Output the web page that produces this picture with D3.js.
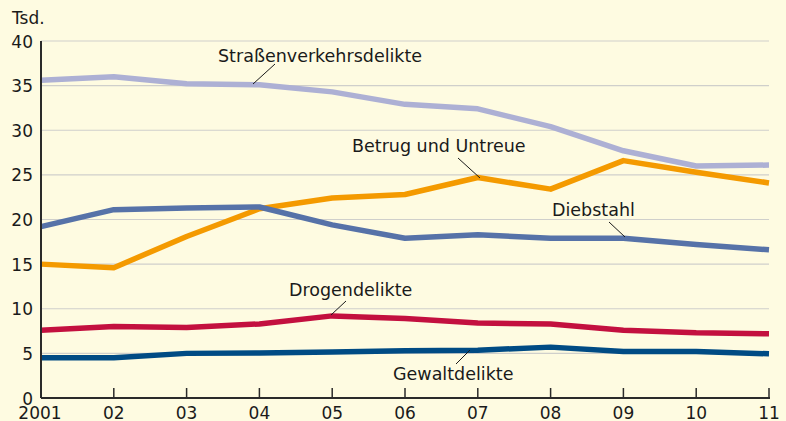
<!DOCTYPE html>
<html>
<head>
<meta charset="utf-8">
<script src="https://cdn.jsdelivr.net/npm/d3@7"></script>
<style>
  body { margin: 0; background: #fefbe1; }
  text { font-family: "DejaVu Sans", sans-serif; fill: #1a1a1a; }
</style>
</head>
<body>
<div id="wrapper"></div>
<script>
// data (thousands)
const years = ["2001", "02", "03", "04", "05", "06", "07", "08", "09", "10", "11"];
const strasse = [35.6, 36.0, 35.2, 35.1, 34.3, 32.9, 32.4, 30.4, 27.7, 26.0, 26.1];
const betrug = [15.0, 14.6, 18.1, 21.2, 22.4, 22.8, 24.7, 23.4, 26.6, 25.3, 24.1];
const diebstahl = [19.2, 21.1, 21.3, 21.4, 19.4, 17.9, 18.3, 17.9, 17.9, 17.2, 16.6];
const drogen = [7.6, 8.0, 7.9, 8.3, 9.2, 8.9, 8.4, 8.3, 7.6, 7.3, 7.2];
const gewalt = [4.5, 4.5, 5.0, 5.05, 5.15, 5.3, 5.35, 5.7, 5.2, 5.2, 4.95];
const yTicks = [0, 5, 10, 15, 20, 25, 30, 35, 40];

const width = 786, height = 421;
const plotL = 41, plotR = 769, plotT = 41, plotB = 398;

const svg = d3.select("#wrapper").append("svg")
  .attr("width", width).attr("height", height);

svg.append("rect").attr("width", width).attr("height", height).attr("fill", "#fefbe1");

const x = d3.scalePoint().domain(years).range([plotL, plotR]);
const y = d3.scaleLinear().domain([0, 40]).range([plotB, plotT]);

// gridlines
svg.selectAll(".grid")
  .data(yTicks.filter(d => d > 0))
  .enter().append("line")
  .attr("x1", plotL).attr("x2", plotR)
  .attr("y1", d => y(d)).attr("y2", d => y(d))
  .attr("stroke", "#cfcfcb").attr("stroke-width", 1.2);

// y labels
svg.selectAll(".ylab")
  .data(yTicks)
  .enter().append("text")
  .attr("x", 33).attr("y", d => y(d) + 6.5)
  .attr("text-anchor", "end")
  .attr("font-size", 17)
  .text(d => d);

svg.append("text").attr("x", 12).attr("y", 24).attr("font-size", 17).text("Tsd.");

// series
const series = [
  { name: "Straßenverkehrsdelikte", values: strasse, color: "#adb0d4" },
  { name: "Betrug und Untreue", values: betrug, color: "#f49a00" },
  { name: "Diebstahl", values: diebstahl, color: "#5672a8" },
  { name: "Drogendelikte", values: drogen, color: "#c3103f" },
  { name: "Gewaltdelikte", values: gewalt, color: "#004b84" }
];

const line = d3.line()
  .x((d, i) => x(years[i]))
  .y(d => y(d));

svg.selectAll(".series")
  .data(series)
  .enter().append("path")
  .attr("d", d => line(d.values))
  .attr("fill", "none")
  .attr("stroke", d => d.color)
  .attr("stroke-width", 5.5)
  .attr("stroke-linejoin", "round");

// labels with leader lines
const labels = [
  { text: "Straßenverkehrsdelikte", x: 218, y: 62, lx1: 253, ly1: 84, lx2: 275, ly2: 64 },
  { text: "Betrug und Untreue", x: 352, y: 152, lx1: 480, ly1: 178, lx2: 458, ly2: 158 },
  { text: "Diebstahl", x: 552, y: 216, lx1: 625, ly1: 237, lx2: 609, ly2: 222 },
  { text: "Drogendelikte", x: 289, y: 296, lx1: 331, ly1: 315, lx2: 346, ly2: 301 },
  { text: "Gewaltdelikte", x: 393, y: 380, lx1: 470, ly1: 350, lx2: 456, ly2: 364 }
];

svg.selectAll(".leader")
  .data(labels)
  .enter().append("line")
  .attr("x1", d => d.lx1).attr("y1", d => d.ly1)
  .attr("x2", d => d.lx2).attr("y2", d => d.ly2)
  .attr("stroke", "#1a1a1a").attr("stroke-width", 1);

svg.selectAll(".lbl")
  .data(labels)
  .enter().append("text")
  .attr("x", d => d.x).attr("y", d => d.y)
  .attr("font-size", 17.5)
  .text(d => d.text);

// axes
svg.append("line")
  .attr("x1", plotL).attr("x2", plotL).attr("y1", plotT).attr("y2", plotB)
  .attr("stroke", "#2a2a2a").attr("stroke-width", 2);
svg.append("line")
  .attr("x1", plotL).attr("x2", plotR + 1).attr("y1", plotB).attr("y2", plotB)
  .attr("stroke", "#2a2a2a").attr("stroke-width", 2);

svg.selectAll(".xtick")
  .data(years.slice(1))
  .enter().append("line")
  .attr("x1", d => x(d)).attr("x2", d => x(d))
  .attr("y1", plotB - 10).attr("y2", plotB)
  .attr("stroke", "#2a2a2a").attr("stroke-width", 1.5);

svg.selectAll(".xlab")
  .data(years)
  .enter().append("text")
  .attr("x", (d, i) => i === 0 ? x(d) - 1 : x(d))
  .attr("y", 419)
  .attr("text-anchor", "middle")
  .attr("font-size", 17)
  .text(d => d);
</script>
</body>
</html>
